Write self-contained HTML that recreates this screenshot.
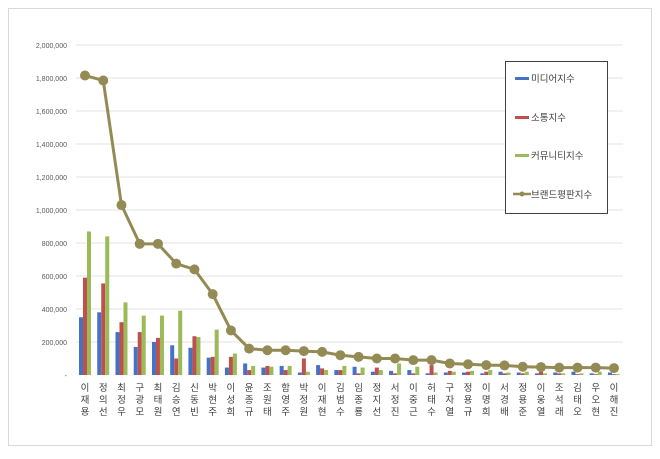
<!DOCTYPE html>
<html><head><meta charset="utf-8"><style>
html,body{margin:0;padding:0;background:#fff;}
svg text{font-family:"Liberation Sans","Noto Sans CJK KR",sans-serif;}
</style></head><body>
<svg id="chart" width="660" height="454" xmlns="http://www.w3.org/2000/svg">
<rect x="8.5" y="8.5" width="643" height="437" fill="#fff" stroke="#d9d9d9"/>
<g id="grid"></g><g id="bars"></g><g id="line"></g><g id="labels"></g>
<g>
<rect x="505.5" y="61.5" width="102" height="152" fill="#fff" stroke="#404040"/>
<rect x="515" y="77" width="14" height="3" fill="#4472c4"/>
<text x="531" y="82" font-size="9.5" fill="#404040">미디어지수</text>
<rect x="515" y="116" width="14" height="3" fill="#c0504d"/>
<text x="531" y="121" font-size="9.5" fill="#404040">소통지수</text>
<rect x="515" y="154" width="14" height="3" fill="#9bbb59"/>
<text x="531" y="159" font-size="9.5" fill="#404040">커뮤니티지수</text>
<line x1="513" y1="194" x2="531" y2="194" stroke="#948a54" stroke-width="2.5"/>
<circle cx="522" cy="194" r="2.5" fill="#948a54"/>
<text x="531" y="198" font-size="9.5" fill="#404040">브랜드평판지수</text>
</g>
</svg>
<script>
const names=["이재용","정의선","최정우","구광모","최태원","김승연","신동빈","박현주","이성희","윤종규","조원태","함영주","박정원","이재현","김범수","임종룡","정지선","서정진","이중근","허태수","구자열","정용규","이명희","서경배","정용준","이웅열","조석래","김태오","우오현","이해진"];
const media=[350,380,260,170,200,180,165,105,45,70,45,55,15,60,30,50,20,25,30,10,15,15,10,20,15,10,15,20,10,15];
const comm=[590,555,320,260,225,100,235,110,110,30,55,30,100,40,30,10,45,10,10,60,25,20,20,10,10,20,10,5,5,5];
const community=[870,840,440,360,360,390,230,275,130,55,50,55,20,30,55,45,30,70,50,15,20,25,30,15,20,10,10,10,20,5];
const brand=[1815,1785,1030,795,795,675,640,490,270,160,150,150,145,140,120,110,100,100,90,90,70,65,60,58,50,48,45,45,45,42];
const yTicks=[0,200000,400000,600000,800000,1000000,1200000,1400000,1600000,1800000,2000000];
const NS="http://www.w3.org/2000/svg";
const y=v=>375-v/2000000*330;
const x=i=>85+i*18.24;
function mk(tag,attrs,parent){const e=document.createElementNS(NS,tag);for(const k in attrs)e.setAttribute(k,attrs[k]);document.getElementById(parent).appendChild(e);return e;}
yTicks.forEach(t=>{
 if(t>0){const l=mk('line',{x1:76,x2:623,y1:y(t),y2:y(t),stroke:'#e3e3e3'},'grid');
 
 }
 const tx=mk('text',{x:67,y:y(t)+3,'font-size':7,'text-anchor':'end',fill:'#595959'},'grid');
 tx.textContent=t===0?'-':t.toLocaleString('en-US');
 
 
});
const series=[[media,'#4472c4',-6],[comm,'#c0504d',-2],[community,'#9bbb59',2]];
names.forEach((n,i)=>{
 series.forEach(([arr,c,off])=>{
  const v=arr[i]*1000;
  const r=mk('rect',{x:x(i)+off,y:y(v),width:4,height:375-y(v),fill:c},'bars');
  
  
 });
 const t=mk('text',{x:x(i),'font-size':9.5,'text-anchor':'middle',fill:'#404040'},'labels');
 
 
 [...n].forEach((ch,k)=>{const s=document.createElementNS(NS,'tspan');s.setAttribute('x',x(i));s.setAttribute('y',391+k*12);s.textContent=ch;t.appendChild(s);});
});
const pts=brand.map((v,i)=>x(i)+','+y(v*1000)).join(' ');
const pl=mk('polyline',{points:pts,fill:'none',stroke:'#948a54','stroke-width':3},'line');


brand.forEach((v,i)=>{
 const c=mk('circle',{cx:x(i),cy:y(v*1000),r:5,fill:'#948a54'},'line');
 
 
});
</script>
</body></html>
